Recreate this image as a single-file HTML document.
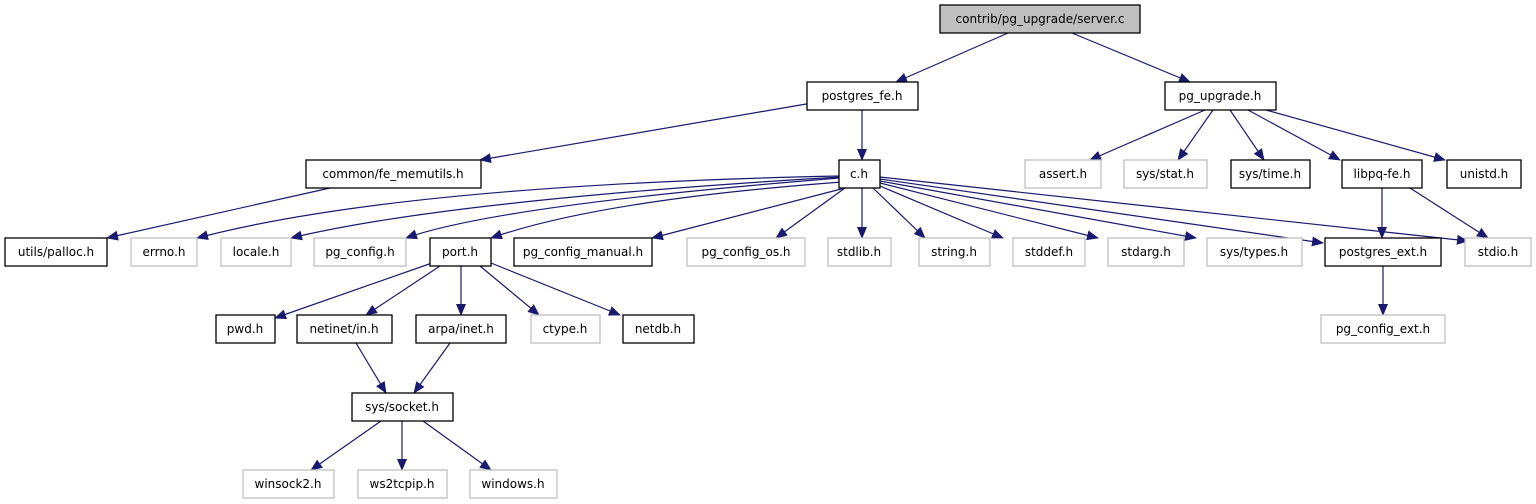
<!DOCTYPE html>
<html><head><meta charset="utf-8"><style>
html,body{margin:0;padding:0;background:#fff;}
svg{display:block;}
text{font-family:"DejaVu Sans","Liberation Sans",sans-serif;font-size:12px;fill:#000;}
.b{fill:#fff;stroke:#000;stroke-width:1.3;}
.g{fill:#fff;stroke:#bfbfbf;stroke-width:1.3;}
.e{stroke:#191970;stroke-width:1.2;fill:none;marker-end:url(#a);}
</style></head><body>
<svg width="1536" height="504" viewBox="0 0 1536 504" xmlns="http://www.w3.org/2000/svg">
<defs><marker id="a" markerWidth="12" markerHeight="10" refX="11" refY="5" orient="auto" markerUnits="userSpaceOnUse"><path d="M0,0 L12,5 L0,10 z" fill="#191970"/></marker></defs>
<!-- edges -->
<path class="e" d="M1008,33 L896,82"/>
<path class="e" d="M1072,33 L1190,82"/>
<path class="e" d="M812,103 L480,160"/>
<path class="e" d="M862,110 L862,160"/>
<path class="e" d="M1205,110 L1090,160"/>
<path class="e" d="M1213,110 L1178,160"/>
<path class="e" d="M1230,110 L1264,160"/>
<path class="e" d="M1248,110 L1340,160"/>
<path class="e" d="M1266,110 L1445,160"/>
<path class="e" d="M330,188 L107,238"/>
<path class="e" d="M840,176 Q400,185 197,238"/>
<path class="e" d="M840,177 Q450,200 291,238"/>
<path class="e" d="M840,178 Q500,205 406,238"/>
<path class="e" d="M842,182 Q600,200 491,238"/>
<path class="e" d="M845,188 L652,238"/>
<path class="e" d="M845,188 L776,238"/>
<path class="e" d="M862,188 L862,238"/>
<path class="e" d="M873,188 L925,238"/>
<path class="e" d="M880,186 L1003,238"/>
<path class="e" d="M880,183 L1098,238"/>
<path class="e" d="M880,181 L1196,238"/>
<path class="e" d="M880,179 L1323,243"/>
<path class="e" d="M880,177 L1468,241"/>
<path class="e" d="M1382,188 L1382,238"/>
<path class="e" d="M1410,188 L1488,238"/>
<path class="e" d="M1383,266 L1383,315"/>
<path class="e" d="M432,263 L275,318"/>
<path class="e" d="M440,266 L366,315"/>
<path class="e" d="M461,266 L461,315"/>
<path class="e" d="M480,266 L539,315"/>
<path class="e" d="M491,263 L620,315"/>
<path class="e" d="M356,343 L386,393"/>
<path class="e" d="M450,343 L414,393"/>
<path class="e" d="M381,421 L311,470"/>
<path class="e" d="M402,421 L402,470"/>
<path class="e" d="M423,421 L491,470"/>
<!-- nodes -->
<rect x="940" y="5" width="200" height="28" fill="#bfbfbf" stroke="#000" stroke-width="1.3"/><text x="1040" y="23" text-anchor="middle">contrib/pg_upgrade/server.c</text>
<g text-anchor="middle">
<rect class="b" x="807" y="82" width="111" height="28"/><text x="862" y="100">postgres_fe.h</text>
<rect class="b" x="1165" y="82" width="111" height="28"/><text x="1220" y="100">pg_upgrade.h</text>
<rect class="b" x="306" y="160" width="175" height="28"/><text x="393" y="178">common/fe_memutils.h</text>
<rect class="b" x="839" y="160" width="41" height="28"/><text x="859" y="178">c.h</text>
<rect class="g" x="1025" y="160" width="76" height="28"/><text x="1063" y="178">assert.h</text>
<rect class="g" x="1124" y="160" width="83" height="28"/><text x="1165" y="178">sys/stat.h</text>
<rect class="b" x="1231" y="160" width="79" height="28"/><text x="1270" y="178">sys/time.h</text>
<rect class="b" x="1342" y="160" width="80" height="28"/><text x="1382" y="178">libpq-fe.h</text>
<rect class="b" x="1447" y="160" width="74" height="28"/><text x="1484" y="178">unistd.h</text>
<rect class="b" x="5" y="238" width="102" height="28"/><text x="56" y="256">utils/palloc.h</text>
<rect class="g" x="131" y="238" width="66" height="28"/><text x="164" y="256">errno.h</text>
<rect class="g" x="221" y="238" width="70" height="28"/><text x="256" y="256">locale.h</text>
<rect class="g" x="314" y="238" width="92" height="28"/><text x="360" y="256">pg_config.h</text>
<rect class="b" x="430" y="238" width="61" height="28"/><text x="460" y="256">port.h</text>
<rect class="b" x="514" y="238" width="138" height="28"/><text x="583" y="256">pg_config_manual.h</text>
<rect class="g" x="687" y="238" width="118" height="28"/><text x="746" y="256">pg_config_os.h</text>
<rect class="g" x="828" y="238" width="63" height="28"/><text x="859" y="256">stdlib.h</text>
<rect class="g" x="919" y="238" width="71" height="28"/><text x="954" y="256">string.h</text>
<rect class="g" x="1013" y="238" width="72" height="28"/><text x="1049" y="256">stddef.h</text>
<rect class="g" x="1108" y="238" width="76" height="28"/><text x="1146" y="256">stdarg.h</text>
<rect class="g" x="1207" y="238" width="95" height="28"/><text x="1254" y="256">sys/types.h</text>
<rect class="b" x="1325" y="238" width="116" height="28"/><text x="1383" y="256">postgres_ext.h</text>
<rect class="g" x="1465" y="238" width="66" height="28"/><text x="1498" y="256">stdio.h</text>
<rect class="b" x="216" y="315" width="59" height="28"/><text x="245" y="333">pwd.h</text>
<rect class="b" x="297" y="315" width="95" height="28"/><text x="344" y="333">netinet/in.h</text>
<rect class="b" x="416" y="315" width="90" height="28"/><text x="461" y="333">arpa/inet.h</text>
<rect class="g" x="531" y="315" width="69" height="28"/><text x="565" y="333">ctype.h</text>
<rect class="b" x="623" y="315" width="71" height="28"/><text x="658" y="333">netdb.h</text>
<rect class="g" x="1321" y="315" width="124" height="28"/><text x="1383" y="333">pg_config_ext.h</text>
<rect class="b" x="352" y="393" width="101" height="28"/><text x="402" y="411">sys/socket.h</text>
<rect class="g" x="243" y="470" width="91" height="28"/><text x="288" y="488">winsock2.h</text>
<rect class="g" x="358" y="470" width="89" height="28"/><text x="402" y="488">ws2tcpip.h</text>
<rect class="g" x="470" y="470" width="87" height="28"/><text x="513" y="488">windows.h</text>
</g>
</svg>
</body></html>
